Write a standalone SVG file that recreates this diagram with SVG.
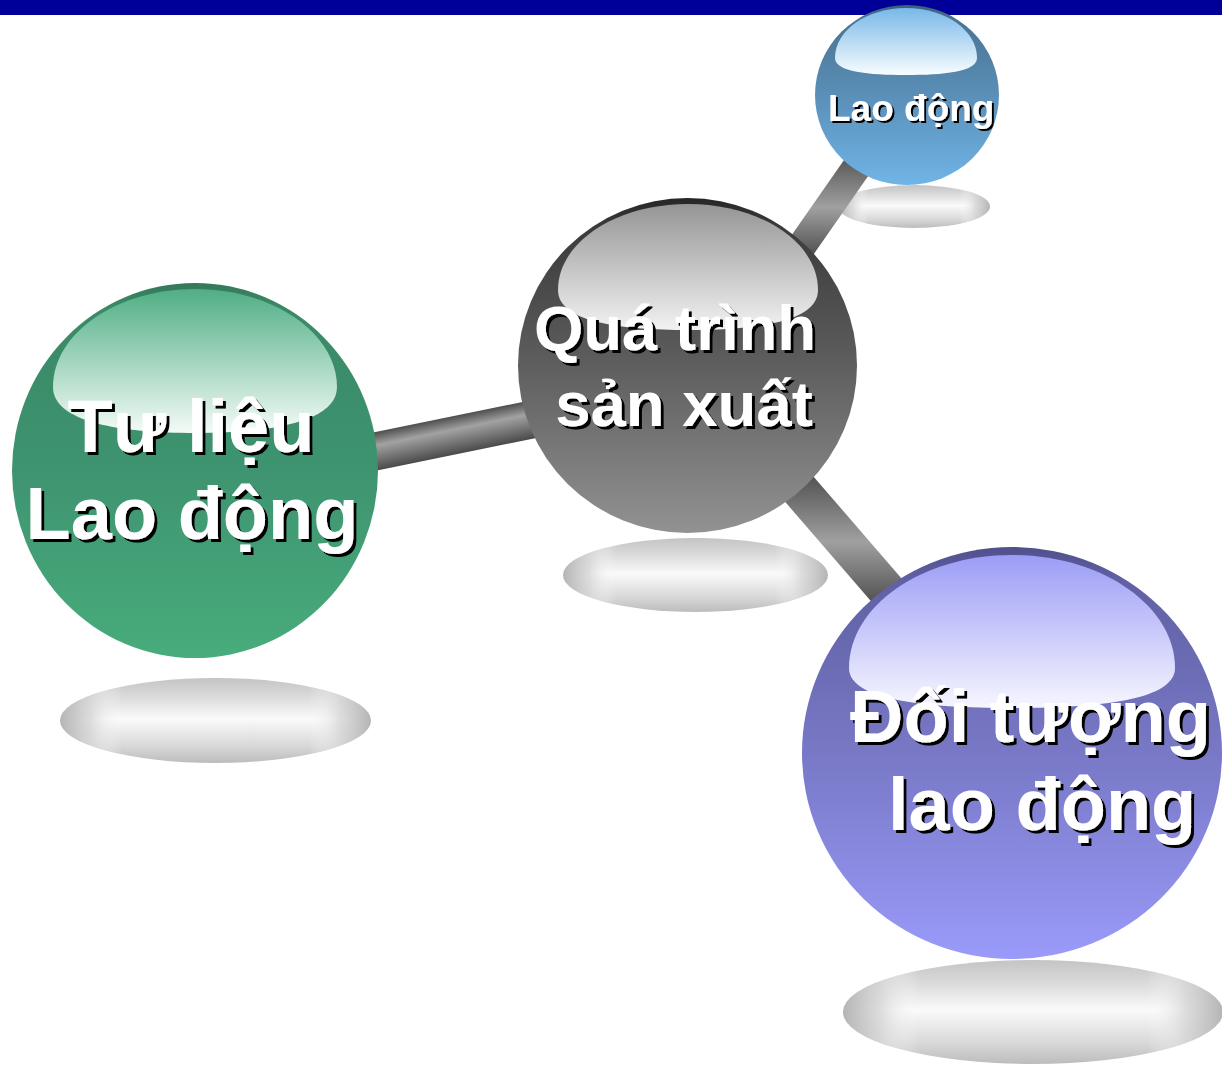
<svg xmlns="http://www.w3.org/2000/svg" width="1222" height="1070" viewBox="0 0 1222 1070">
<style>
.lbl{font-family:"Liberation Sans",Arial,sans-serif;font-weight:bold;fill:#ffffff}
.big{filter:url(#ts3)}
.small{filter:url(#ts2)}
</style>
<defs>
<filter id="ts3" x="-10%" y="-20%" width="120%" height="150%"><feDropShadow dx="3" dy="3" stdDeviation="0" flood-color="#000" flood-opacity="1"/></filter>
<filter id="ts2" x="-10%" y="-20%" width="120%" height="150%"><feDropShadow dx="2" dy="2" stdDeviation="0" flood-color="#000" flood-opacity="1"/></filter>
<linearGradient id="shH" x1="0" y1="0" x2="1" y2="0">
<stop offset="0" stop-color="#b4b4b4" stop-opacity="1"/><stop offset="0.1" stop-color="#d6d6d6" stop-opacity="0.8"/><stop offset="0.2" stop-color="#ffffff" stop-opacity="0"/><stop offset="0.8" stop-color="#ffffff" stop-opacity="0"/><stop offset="0.9" stop-color="#d6d6d6" stop-opacity="0.8"/><stop offset="1" stop-color="#b4b4b4" stop-opacity="1"/>
</linearGradient>
<linearGradient id="shV" x1="0" y1="0" x2="0" y2="1">
<stop offset="0" stop-color="#c4c4c4"/><stop offset="0.2" stop-color="#d8d8d8"/><stop offset="0.48" stop-color="#fafafa"/><stop offset="0.8" stop-color="#d8d8d8"/><stop offset="1" stop-color="#bcbcbc"/>
</linearGradient>
<linearGradient id="bar1" x1="0" y1="0" x2="0" y2="1">
<stop offset="0" stop-color="#4e4e4e"/><stop offset="0.35" stop-color="#a2a2a2"/><stop offset="1" stop-color="#4a4a4a"/>
</linearGradient>
<linearGradient id="bar2" gradientUnits="userSpaceOnUse" x1="0" y1="160" x2="0" y2="255">
<stop offset="0" stop-color="#5a5a5a"/><stop offset="0.5" stop-color="#a0a0a0"/><stop offset="1" stop-color="#505050"/>
</linearGradient>
<linearGradient id="bar3" gradientUnits="userSpaceOnUse" x1="0" y1="478" x2="0" y2="605">
<stop offset="0" stop-color="#555555"/><stop offset="0.5" stop-color="#a0a0a0"/><stop offset="1" stop-color="#4e4e4e"/>
</linearGradient>
<linearGradient id="gGreen" x1="0" y1="0" x2="0" y2="1">
<stop offset="0" stop-color="#34785a"/><stop offset="0.06" stop-color="#3a8866"/><stop offset="0.5" stop-color="#3e9470"/><stop offset="1" stop-color="#48ac7c"/>
</linearGradient>
<linearGradient id="gGrey" x1="0" y1="0" x2="0" y2="1">
<stop offset="0" stop-color="#262626"/><stop offset="0.08" stop-color="#3a3a3a"/><stop offset="0.5" stop-color="#5e5e5e"/><stop offset="1" stop-color="#929292"/>
</linearGradient>
<linearGradient id="gBlue" x1="0" y1="0" x2="0" y2="1">
<stop offset="0" stop-color="#3c5c7a"/><stop offset="0.08" stop-color="#4a7392"/><stop offset="0.5" stop-color="#5a8fb8"/><stop offset="1" stop-color="#70b4e6"/>
</linearGradient>
<linearGradient id="gPurple" x1="0" y1="0" x2="0" y2="1">
<stop offset="0" stop-color="#50508c"/><stop offset="0.08" stop-color="#6060a4"/><stop offset="0.5" stop-color="#7878c6"/><stop offset="1" stop-color="#9a9afa"/>
</linearGradient>
<linearGradient id="hGreen" x1="0" y1="0" x2="0" y2="1"><stop offset="0" stop-color="#4fae84"/><stop offset="1" stop-color="#f4fbf7"/></linearGradient>
<linearGradient id="hGrey" x1="0" y1="0" x2="0" y2="1"><stop offset="0" stop-color="#959595"/><stop offset="1" stop-color="#f2f2f2"/></linearGradient>
<linearGradient id="hBlue" x1="0" y1="0" x2="0" y2="1"><stop offset="0" stop-color="#78b8e8"/><stop offset="1" stop-color="#f8fcff"/></linearGradient>
<linearGradient id="hPurple" x1="0" y1="0" x2="0" y2="1"><stop offset="0" stop-color="#9c9cf6"/><stop offset="1" stop-color="#f6f6ff"/></linearGradient>
</defs>

<rect x="0" y="0" width="1222" height="15" fill="#000099"/>

<g id="shadows">
<ellipse cx="215.5" cy="720.5" rx="155.5" ry="42.5" fill="url(#shV)"/>
<ellipse cx="215.5" cy="720.5" rx="155.5" ry="42.5" fill="url(#shH)"/>
<ellipse cx="695.5" cy="575" rx="132.5" ry="37" fill="url(#shV)"/>
<ellipse cx="695.5" cy="575" rx="132.5" ry="37" fill="url(#shH)"/>
<ellipse cx="914" cy="206.5" rx="76" ry="21.5" fill="url(#shV)"/>
<ellipse cx="914" cy="206.5" rx="76" ry="21.5" fill="url(#shH)"/>
<ellipse cx="1033" cy="1012" rx="190" ry="52" fill="url(#shV)"/>
<ellipse cx="1033" cy="1012" rx="190" ry="52" fill="url(#shH)"/>
</g>

<g id="connectors">
<rect x="-40" y="-19" width="250" height="38" fill="url(#bar1)" transform="translate(377 451.1) rotate(-11.56)"/>
<polygon points="773.1,261.7 864.6,130.5 888.4,147.1 796.9,278.3" fill="url(#bar2)"/>
<polygon points="775.8,432.9 926.2,607 897.4,631.8 747,457.7" fill="url(#bar3)"/>
</g>

<g id="node-tu-lieu">
<ellipse cx="195" cy="470.5" rx="183" ry="187.5" fill="url(#gGreen)"/>
<path d="M53,387 C53,333 117,289 195,289 C273,289 337,333 337,387 C337,422 270,433 195,433 C120,433 53,422 53,387Z" fill="url(#hGreen)"/>
<text class="lbl big" font-size="74" text-anchor="middle"><tspan x="191" y="452">Tư liệu</tspan><tspan x="192" y="539">Lao động</tspan></text>
</g>

<g id="node-qua-trinh">
<ellipse cx="687.5" cy="365.5" rx="169.5" ry="167.5" fill="url(#gGrey)"/>
<path d="M558,290 C558,242 616,204 688,204 C760,204 818,242 818,290 C818,322 756,330 688,330 C620,330 558,322 558,290Z" fill="url(#hGrey)"/>
<text class="lbl big" font-size="63.5" text-anchor="middle"><tspan x="675" y="350">Quá trình</tspan><tspan x="684" y="426">sản xuất</tspan></text>
</g>

<g id="node-lao-dong">
<ellipse cx="907" cy="95" rx="92" ry="90" fill="url(#gBlue)"/>
<path d="M835,58 C835,30 867,8 906,8 C945,8 977,30 977,58 C977,72 943,75 906,75 C869,75 835,72 835,58Z" fill="url(#hBlue)"/>
<text class="lbl small" font-size="37" x="828" y="121">Lao động</text>
</g>

<g id="node-doi-tuong">
<ellipse cx="1012" cy="753" rx="210" ry="206" fill="url(#gPurple)"/>
<path d="M849,668 C849,606 922,555 1012,555 C1102,555 1175,606 1175,668 C1175,700 1100,708 1012,708 C924,708 849,700 849,668Z" fill="url(#hPurple)"/>
<text class="lbl big" font-size="74"><tspan x="850" y="742">Đối tượng</tspan><tspan x="888" y="830">lao động</tspan></text>
</g>
</svg>
